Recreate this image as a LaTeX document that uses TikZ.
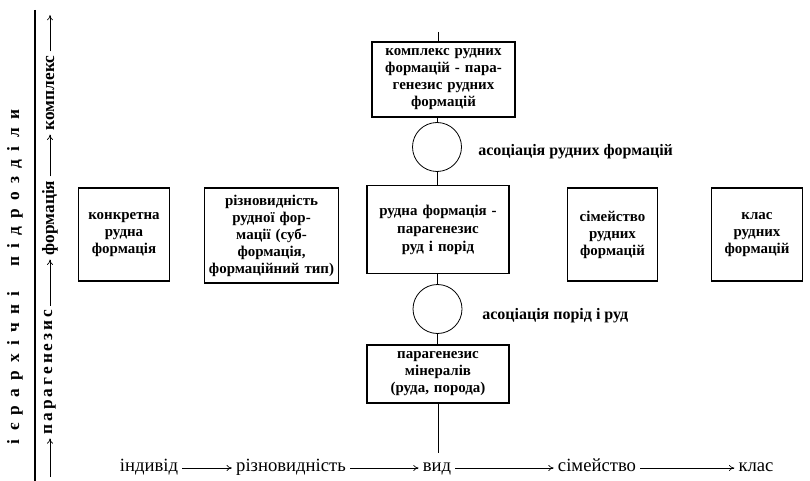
\documentclass[tikz,border=0pt]{standalone}
\usepackage{fontspec}
\setmainfont{Liberation Serif}
\usetikzlibrary{arrows.meta}
\newcommand\gs{\hspace{6.2pt}}
\newcommand\ks{\kern2.2pt}
\begin{document}
\begin{tikzpicture}[x=0.75pt,y=-0.75pt,
  box/.style={draw,line width=0.8pt,align=center,font=\bfseries\fontsize{11.2}{12.75}\selectfont,inner sep=1pt},
  assoc/.style={draw,circle,minimum size=36.75pt,inner sep=0pt,line width=0.6pt},
  lbl/.style={font=\bfseries\fontsize{12}{13}\selectfont,inner sep=0pt},
  axis/.style={font=\fontsize{14}{16}\selectfont,inner sep=3pt,text height=1.5ex,text depth=0.25ex},
  vert/.style={rotate=90,font=\bfseries\fontsize{13}{15}\selectfont,inner sep=3pt},
  arr/.style={-{To[length=4pt,width=4.5pt]},line width=0.5pt},
  conn/.style={line width=0.6pt}]
\useasboundingbox (0,0) rectangle (810,481);

% boxes
\node[box,minimum width=107.25pt,minimum height=56.25pt,text width=105pt] (top) at (443.5,79.5)
  {комплекс рудних\\формацій - пара-\\генезис рудних\\формацій};
\node[box,minimum width=106.5pt,minimum height=66pt,text width=104pt,font=\bfseries\fontsize{11.2}{13.5}\selectfont] (mid) at (438,229.5)
  {рудна формація -\\парагенезис\\руд і порід};
\node[box,minimum width=106.5pt,minimum height=43.5pt,text width=104pt] (bot) at (438,374)
  {парагенезис\\мінералів\\(руда, порода)};
\node[box,minimum width=67.5pt,minimum height=69.75pt,text width=66pt] (l1) at (124,234.5)
  {конкретна\\рудна\\формація};
\node[box,minimum width=99.75pt,minimum height=71.25pt,text width=98pt] (l2) at (271.5,235.5)
  {різновидність\\рудної фор-\\мації (суб-\\формація,\\формаційний тип)};
\node[box,minimum width=66.75pt,minimum height=69.75pt,text width=65pt] (r1) at (612.5,234.5)
  {сімейство\\рудних\\формацій};
\node[box,minimum width=67.5pt,minimum height=69.75pt,text width=66pt] (r2) at (757,234.5)
  {клас\\рудних\\формацій};

% circles
\node[assoc] (c1) at (437,147) {};
\node[assoc] (c2) at (437.5,309) {};
\node[lbl,anchor=west] (a1) at (478,152) {асоціація рудних формацій};
\node[lbl,anchor=west] (a2) at (482,316) {асоціація порід і руд};

% vertical connectors
\coordinate (topend) at (438,32);
\coordinate (botend) at (438,453);
\draw[conn] (topend) -- (topend |- top.north);
\draw[conn] (c1.north) -- (c1.north |- top.south);
\draw[conn] (c1.south) -- (c1.south |- mid.north);
\draw[conn] (mid.south -| c2) -- (c2.north);
\draw[conn] (c2.south) -- (c2.south |- bot.north);
\draw[conn] (bot.south) -- (botend);

% left side
\coordinate (ltop) at (35,10);
\coordinate (lbot) at (35,481);
\draw[line width=1.3pt] (ltop) -- (lbot);
\node[rotate=90,font=\bfseries\fontsize{13}{15}\selectfont] (hier) at (15,277)
  {і\gs є\gs р\gs а\gs р\gs х\gs і\gs ч\gs н\gs і\gs\gs\gs п\gs і\gs д\gs р\gs о\gs з\gs д\gs і\gs л\gs и};

\coordinate (v0) at (50,477);
\coordinate (v4) at (50,15);
\node[vert] (vp) at (50,372) {п\ks а\ks р\ks а\ks г\ks е\ks н\ks е\ks з\ks и\ks с};
\node[vert] (vf) at (50,218) {формація};
\node[vert] (vk) at (50,93) {комплекс};
\draw[arr] (v0) -- (vp.west);
\draw[arr] (vp.east) -- (vf.west);
\draw[arr] (vf.east) -- (vk.west);
\draw[arr] (vk.east) -- (v4);

% bottom axis
\node[axis] (ind) at (149,468) {індивід};
\node[axis] (riz) at (291,468) {різновидність};
\node[axis] (vyd) at (437,468) {вид};
\node[axis] (sim) at (597,468) {сімейство};
\node[axis] (kl) at (756,468) {клас};
\draw[arr] (ind) -- (riz);
\draw[arr] (riz) -- (vyd);
\draw[arr] (vyd) -- (sim);
\draw[arr] (sim) -- (kl);
\end{tikzpicture}
\end{document}
